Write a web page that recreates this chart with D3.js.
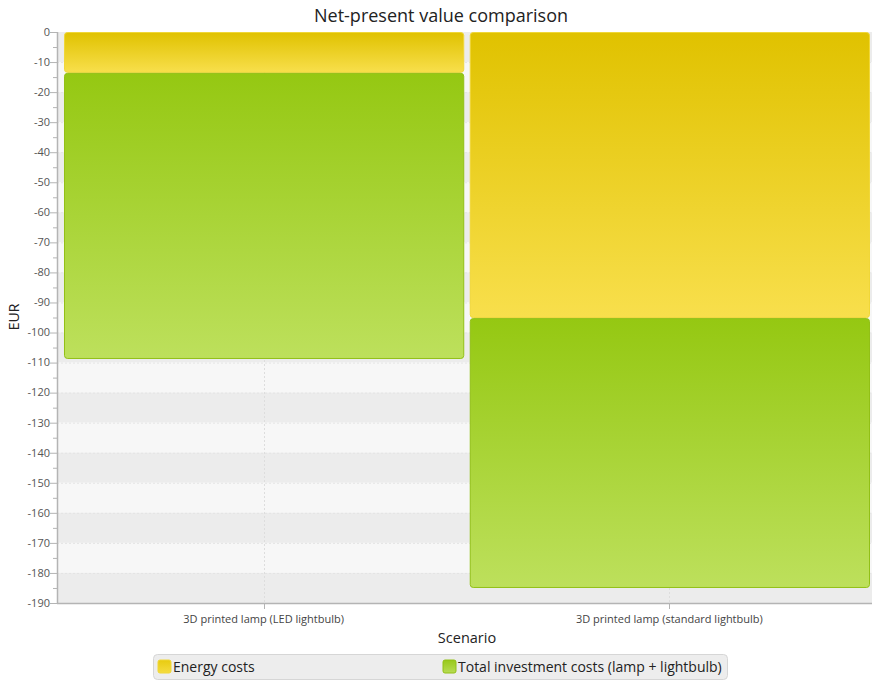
<!DOCTYPE html>
<html>
<head>
<meta charset="utf-8">
<script src="https://cdn.jsdelivr.net/npm/d3@7"></script>
<style>
  html, body { margin: 0; padding: 0; background: #fff; }
  svg { display: block; font-family: "Open Sans", "Noto Sans", sans-serif; }
</style>
</head>
<body>
<svg id="chart" width="873" height="680"></svg>
<script>
const categories = ["3D printed lamp (LED lightbulb)", "3D printed lamp (standard lightbulb)"];
const seriesNames = ["Energy costs", "Total investment costs (lamp + lightbulb)"];
const energyCosts = [-13.6, -95.2];
const investmentCosts = [-95.2, -89.8];
const yTicks = [0, -10, -20, -30, -40, -50, -60, -70, -80, -90, -100, -110, -120, -130, -140, -150, -160, -170, -180, -190];

const svg = d3.select("#chart");
const plot = { left: 57, right: 872, top: 32, bottom: 603 };

const y = d3.scaleLinear().domain([-190, 0]).range([plot.bottom, plot.top]);
const x = d3.scaleBand().domain(categories).range([plot.left, plot.right])
  .paddingInner(0.016).paddingOuter(0.0123).align(0.7);

const defs = svg.append("defs");
function grad(id, c1, c2) {
  const g = defs.append("linearGradient").attr("id", id).attr("x1", 0).attr("y1", 0).attr("x2", 0).attr("y2", 1);
  g.append("stop").attr("offset", "0%").attr("stop-color", c1);
  g.append("stop").attr("offset", "100%").attr("stop-color", c2);
}
grad("gEnergy", "#e0c200", "#f8df4c");
grad("gInvest", "#95c812", "#bde05c");
const fills = ["url(#gEnergy)", "url(#gInvest)"];
const strokes = ["#f0d738", "#92c016"];
const legendColors = [["#e8cb10", "#f5dc40"], ["#98c91a", "#b8dc55"]];

// plot background and alternating rows
const rows = d3.range(yTicks.length - 1).map(i => ({ hi: yTicks[i], lo: yTicks[i + 1] }));
svg.append("rect").attr("x", plot.left).attr("y", plot.top)
  .attr("width", plot.right - plot.left).attr("height", plot.bottom - plot.top)
  .attr("fill", "#f7f7f7");
svg.append("g").selectAll("rect").data(rows).join("rect")
  .attr("x", plot.left)
  .attr("y", d => y(d.hi))
  .attr("width", plot.right - plot.left)
  .attr("height", d => y(d.lo) - y(d.hi))
  .attr("fill", (d, i) => ((rows.length - 1 - i) % 2 === 0) ? "#ececec" : "#f7f7f7");

// grid lines
svg.append("g").selectAll("line").data(yTicks.slice(1, -1)).join("line")
  .attr("x1", plot.left).attr("x2", plot.right)
  .attr("y1", d => y(d) + 0.5).attr("y2", d => y(d) + 0.5)
  .attr("stroke", "#e4e4e4").attr("stroke-dasharray", "2,2");
svg.append("g").selectAll("line").data(categories).join("line")
  .attr("x1", d => Math.round(x(d) + x.bandwidth() / 2) + 0.5)
  .attr("x2", d => Math.round(x(d) + x.bandwidth() / 2) + 0.5)
  .attr("y1", plot.top).attr("y2", plot.bottom)
  .attr("stroke", "#dddddd").attr("stroke-dasharray", "2,2");

// stacked bars
const stacked = categories.map((c, i) => {
  const e = energyCosts[i], v = investmentCosts[i];
  return [
    { cat: c, s: 0, y0: 0, y1: e },
    { cat: c, s: 1, y0: e, y1: e + v }
  ];
}).flat();

svg.append("g").selectAll("rect").data(stacked).join("rect")
  .attr("x", d => x(d.cat) + 0.5)
  .attr("y", d => y(d.y0) + 0.5)
  .attr("width", x.bandwidth())
  .attr("height", d => y(d.y1) - y(d.y0) - 1)
  .attr("rx", 3).attr("ry", 3)
  .attr("fill", d => fills[d.s])
  .attr("stroke", d => strokes[d.s])
  .attr("stroke-width", 1);

// Y axis
const yAxisG = svg.append("g").attr("transform", `translate(${plot.left},0)`);
yAxisG.append("line").attr("x1", 0.5).attr("x2", 0.5).attr("y1", plot.top).attr("y2", plot.bottom)
  .attr("stroke", "#b4b4b4").attr("stroke-width", 1.5);
const minor = d3.range(-185, 0, 10);
yAxisG.selectAll("line.minor").data(minor).join("line").attr("class", "minor")
  .attr("x1", -4).attr("x2", 0).attr("y1", d => y(d) + 0.5).attr("y2", d => y(d) + 0.5)
  .attr("stroke", "#b4b4b4");
yAxisG.selectAll("line.major").data(yTicks).join("line").attr("class", "major")
  .attr("x1", -7).attr("x2", 0).attr("y1", d => y(d) + 0.5).attr("y2", d => y(d) + 0.5)
  .attr("stroke", "#b4b4b4");
yAxisG.selectAll("text").data(yTicks).join("text")
  .attr("x", -7).attr("y", d => y(d)).attr("dy", "0.35em")
  .attr("text-anchor", "end").attr("font-size", 11).attr("fill", "#555")
  .text(d => d);

// X axis
const xAxisG = svg.append("g");
xAxisG.append("line").attr("x1", plot.left).attr("x2", plot.right)
  .attr("y1", plot.bottom + 0.5).attr("y2", plot.bottom + 0.5)
  .attr("stroke", "#b4b4b4").attr("stroke-width", 1.5);
xAxisG.selectAll("line.tick").data(categories).join("line").attr("class", "tick")
  .attr("x1", d => Math.round(x(d) + x.bandwidth() / 2) + 0.5)
  .attr("x2", d => Math.round(x(d) + x.bandwidth() / 2) + 0.5)
  .attr("y1", plot.bottom).attr("y2", plot.bottom + 6)
  .attr("stroke", "#b4b4b4");
xAxisG.selectAll("text").data(categories).join("text")
  .attr("x", d => x(d) + x.bandwidth() / 2).attr("y", 623)
  .attr("text-anchor", "middle").attr("font-size", 11).attr("fill", "#444")
  .text(d => d);

// titles
svg.append("text").attr("x", 441).attr("y", 22).attr("text-anchor", "middle")
  .attr("font-size", 18).attr("fill", "#222").text("Net-present value comparison");
svg.append("text").attr("x", 467).attr("y", 643).attr("text-anchor", "middle")
  .attr("font-size", 14.5).attr("fill", "#222").text("Scenario");
svg.append("text").attr("transform", "translate(19,317) rotate(-90)").attr("text-anchor", "middle")
  .attr("font-size", 14).attr("fill", "#222").text("EUR");

// legend
const lg = svg.append("g");
lg.append("rect").attr("x", 153.5).attr("y", 654.5).attr("width", 574).attr("height", 25)
  .attr("rx", 4).attr("fill", "#ededed").attr("stroke", "#d6d6d6");
const legendX = [158, 443];
seriesNames.forEach((n, i) => {
  const gid = "lg" + i;
  grad(gid, legendColors[i][0], legendColors[i][1]);
  lg.append("rect").attr("x", legendX[i]).attr("y", 660).attr("width", 13).attr("height", 13)
    .attr("rx", 2).attr("fill", `url(#${gid})`).attr("stroke", strokes[i]);
  lg.append("text").attr("x", legendX[i] + 15).attr("y", 671.5)
    .attr("font-size", 14).attr("fill", "#222").text(n);
});
</script>
</body>
</html>
